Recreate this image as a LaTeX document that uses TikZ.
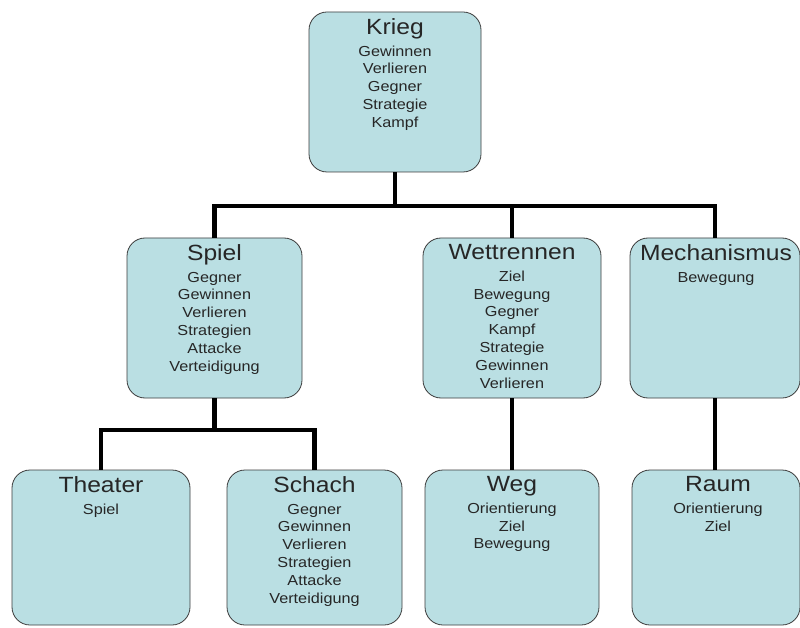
\documentclass[tikz,border=0pt]{standalone}
\usepackage{fontspec}
\setmainfont{Liberation Sans}
\newfontfamily\diagfont[FakeStretch=1.12]{Liberation Sans}
\usetikzlibrary{calc}
\definecolor{boxfill}{RGB}{186,223,227}
\definecolor{boxline}{RGB}{60,60,60}
\newcommand\boxtitle[1]{{\fontsize{22}{22}\selectfont #1}\\[3.6pt]}
\tikzset{
  box/.style={draw=boxline, line width=0.8pt, fill=boxfill, rounded corners=18pt, inner sep=0pt},
  lbl/.style={anchor=north, inner sep=0pt, align=center, text=black!85,
              font=\diagfont\fontsize{14.5}{17.8}\selectfont},
  conn/.style={line width=4.8pt, black}
}
\begin{document}
\begin{tikzpicture}[x=1pt, y=-1pt]
\useasboundingbox (0,0) rectangle (800,628);
% boxes
\node[box, minimum width=172, minimum height=160] (krieg) at (395,92) {};
\node[box, minimum width=175, minimum height=160] (spiel) at (214.5,318) {};
\node[box, minimum width=178, minimum height=160] (wett) at (512,318) {};
\node[box, minimum width=170, minimum height=160] (mech) at (715,318) {};
\node[box, minimum width=178, minimum height=155] (theater) at (101,547.5) {};
\node[box, minimum width=175, minimum height=155] (schach) at (314.5,547.5) {};
\node[box, minimum width=174, minimum height=155] (weg) at (512,547.5) {};
\node[box, minimum width=168, minimum height=155] (raum) at (716,547.5) {};
% texts
\node[lbl] (krieg-t) at ($(krieg.north)+(0,7)$) {\boxtitle{Krieg}Gewinnen\\Verlieren\\Gegner\\Strategie\\Kampf};
\node[lbl] (spiel-t) at ($(spiel.north)+(0,7)$) {\boxtitle{Spiel}Gegner\\Gewinnen\\Verlieren\\Strategien\\Attacke\\Verteidigung};
\node[lbl] (wett-t) at ($(wett.north)+(0,7)$) {\boxtitle{Wettrennen}Ziel\\Bewegung\\Gegner\\Kampf\\Strategie\\Gewinnen\\Verlieren};
\node[lbl] (mech-t) at ($(mech.north)+(1,7)$) {\boxtitle{Mechanismus}Bewegung};
\node[lbl] (theater-t) at ($(theater.north)+(0,7)$) {\boxtitle{Theater}Spiel};
\node[lbl] (schach-t) at ($(schach.north)+(0,7)$) {\boxtitle{Schach}Gegner\\Gewinnen\\Verlieren\\Strategien\\Attacke\\Verteidigung};
\node[lbl] (weg-t) at ($(weg.north)+(0,7)$) {\boxtitle{Weg}Orientierung\\Ziel\\Bewegung};
\node[lbl] (raum-t) at ($(raum.north)+(2,7)$) {\boxtitle{Raum}Orientierung\\Ziel};
% connectors
\coordinate (bus1) at (0,206);
\coordinate (bus2) at (0,430);
\draw[conn] (krieg.south) -- (krieg.south |- bus1);
\draw[conn] (spiel.north) |- (mech.north |- bus1) -- (mech.north);
\draw[conn] (wett.north) -- (wett.north |- bus1);
\draw[conn] (spiel.south) -- (spiel.south |- bus2);
\draw[conn] (theater.north) |- (schach.north |- bus2) -- (schach.north);
\draw[conn] (wett.south) -- (weg.north);
\draw[conn] (mech.south) -- (mech.south |- raum.north);
\end{tikzpicture}
\end{document}
